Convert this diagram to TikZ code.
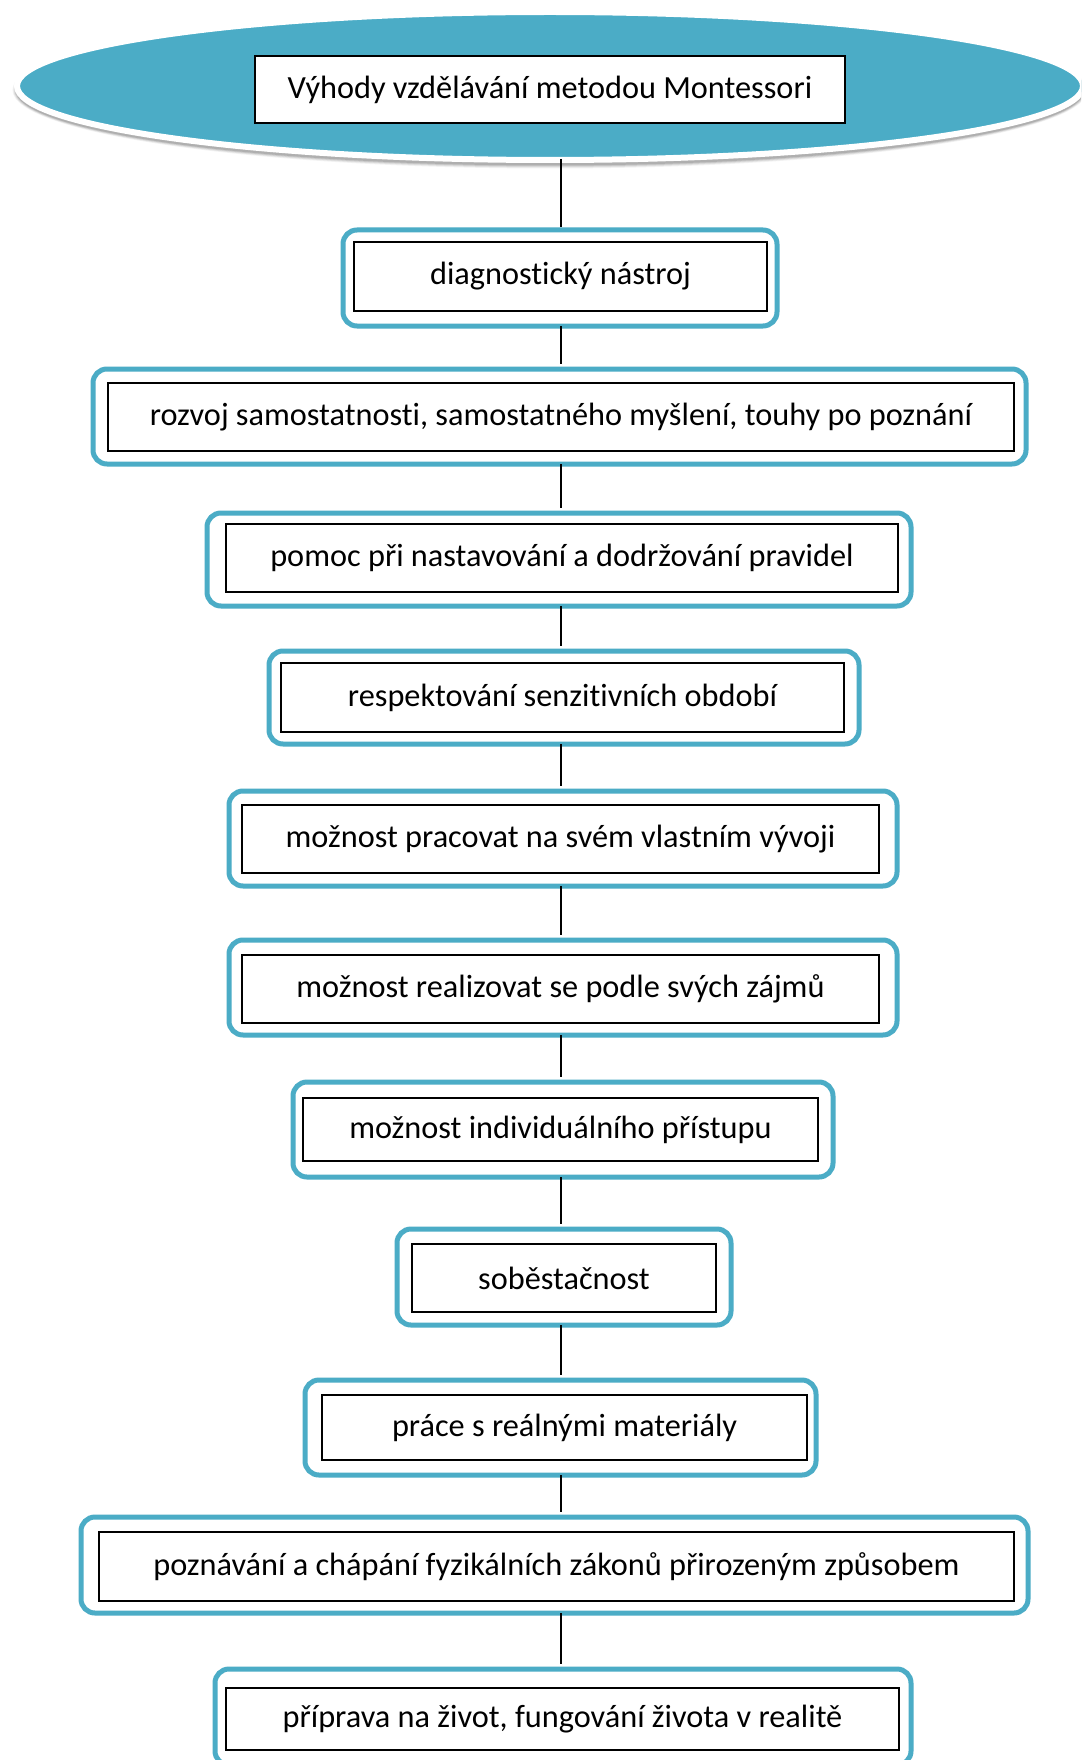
\documentclass[tikz,border=0pt]{standalone}
\usepackage{fontspec}
\setmainfont[Ligatures=NoCommon]{Carlito}
\usetikzlibrary{shapes.geometric}
\definecolor{aqua}{HTML}{4BACC6}
\tikzset{
  x=1pt, y=-1pt,
  outerbox/.style={draw=aqua, line width=5pt, rounded corners=14pt, fill=white, inner sep=0pt},
  innerbox/.style={draw=black, line width=1.1pt, fill=white, inner sep=0pt,
    font=\fontsize{32.3}{38}\selectfont, text=black},
  link/.style={draw=black, line width=1.6pt},
}
\begin{document}
\begin{tikzpicture}
\useasboundingbox (0,0) rectangle (1081,1760);
\clip (0,0) rectangle (1081,1760);
\fill[white] (0,0) rectangle (1081,1760);

% title ellipse with soft shadow and white rim
\foreach \d/\o in {9/0.05,7/0.08,5/0.10,3/0.12}
  \fill[black, opacity=\o] (550,90) ellipse [x radius=533+\d/2, y radius=74+\d/2];
\node[ellipse, fill=aqua, draw=white, line width=6pt, inner sep=0pt,
      minimum width=1066pt, minimum height=148pt] (ell) at (550,86) {};
\node[innerbox, minimum width=590pt, minimum height=67pt] (title) at (550,89.5)
  {Výhody vzdělávání metodou Montessori};

% connector spine
\coordinate (spine) at (561,0);

% entries: outer frame + inner labelled box
\node[outerbox, minimum width=434pt, minimum height=96pt]  (o1)  at (560,278) {};
\node[innerbox, minimum width=413pt, minimum height=69pt]  (i1)  at (560.5,276.5) {diagnostický nástroj};

\node[outerbox, minimum width=933pt, minimum height=95pt]  (o2)  at (559.5,416.5) {};
\node[innerbox, minimum width=906pt, minimum height=68pt]  (i2)  at (561,417) {rozvoj samostatnosti, samostatného myšlení, touhy po poznání};

\node[outerbox, minimum width=704pt, minimum height=93pt]  (o3)  at (559,559.5) {};
\node[innerbox, minimum width=672pt, minimum height=68pt]  (i3)  at (562,558) {pomoc při nastavování a dodržování pravidel};

\node[outerbox, minimum width=590pt, minimum height=93pt]  (o4)  at (564,697.5) {};
\node[innerbox, minimum width=563pt, minimum height=69pt]  (i4)  at (562.5,697.5) {respektování senzitivních období};

\node[outerbox, minimum width=668pt, minimum height=95pt]  (o5)  at (563,838.5) {};
\node[innerbox, minimum width=637pt, minimum height=68pt]  (i5)  at (560.5,839) {možnost pracovat na svém vlastním vývoji};

\node[outerbox, minimum width=668pt, minimum height=95pt]  (o6)  at (563,987.5) {};
\node[innerbox, minimum width=637pt, minimum height=68pt]  (i6)  at (560.5,989) {možnost realizovat se podle svých zájmů};

\node[outerbox, minimum width=540pt, minimum height=95pt]  (o7)  at (563,1129.5) {};
\node[innerbox, minimum width=515pt, minimum height=63pt]  (i7)  at (560.5,1129.5) {možnost individuálního přístupu};

\node[outerbox, minimum width=334pt, minimum height=96pt]  (o8)  at (564,1277) {};
\node[innerbox, minimum width=304pt, minimum height=68pt]  (i8)  at (564,1278) {soběstačnost};

\node[outerbox, minimum width=511pt, minimum height=95pt]  (o9)  at (560.5,1427.5) {};
\node[innerbox, minimum width=485pt, minimum height=65pt]  (i9)  at (564.5,1427.5) {práce s reálnými materiály};

\node[outerbox, minimum width=947pt, minimum height=96pt]  (o10) at (554.5,1565) {};
\node[innerbox, minimum width=915pt, minimum height=69pt]  (i10) at (556.5,1566.5) {poznávání a chápání fyzikálních zákonů přirozeným způsobem};

\node[outerbox, minimum width=696pt, minimum height=96pt]  (o11) at (563,1717) {};
\node[innerbox, minimum width=673pt, minimum height=62pt]  (i11) at (562.5,1719) {příprava na život, fungování života v realitě};

% connectors along the spine
\draw[link] (ell.south -| spine) ++(0,-4) -- (o1.north -| spine);
\foreach \a/\b in {o1/o2,o2/o3,o3/o4,o4/o5,o5/o6,o6/o7,o7/o8,o8/o9,o9/o10,o10/o11}
  \draw[link] (\a.south -| spine) ++(0,-2.5) -- ([yshift=2.5pt]\b.north -| spine);
\end{tikzpicture}
\end{document}
